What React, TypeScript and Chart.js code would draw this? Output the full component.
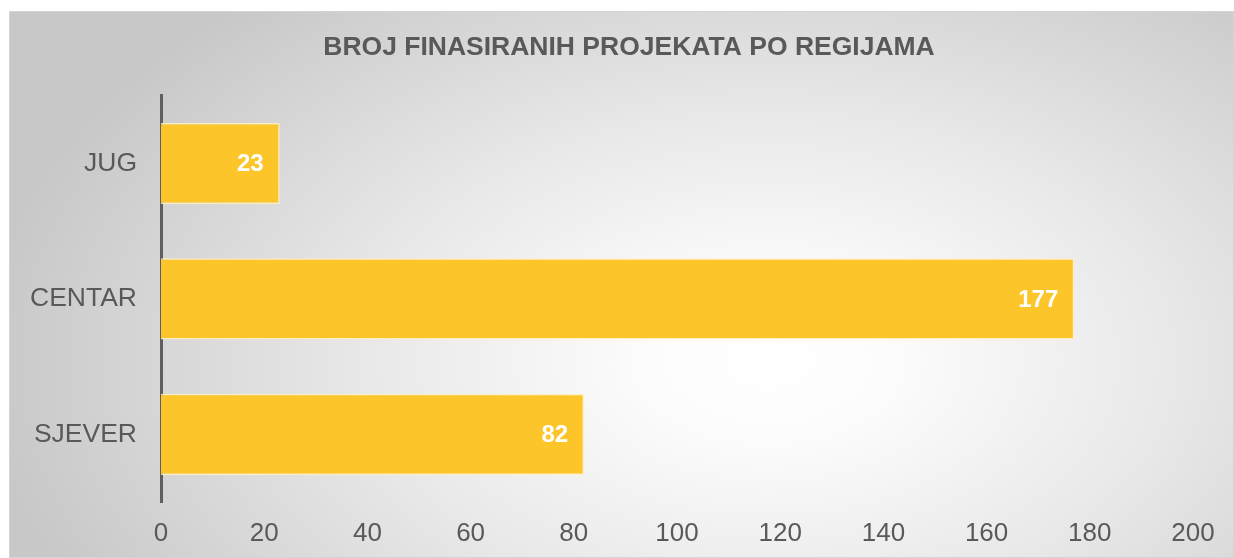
import React, { useEffect, useRef } from "react";
import { Chart, registerables } from "chart.js";

Chart.register(...registerables);

const title = "BROJ FINASIRANIH PROJEKATA PO REGIJAMA";
const regions = ["JUG", "CENTAR", "SJEVER"];
const projects = [23, 177, 82];
const xMin = 0;
const xMax = 200;
const xStep = 20;

const FONT = "'Liberation Sans', Arial, sans-serif";
const GRAY = "#595959";

const valueLabels = {
  id: "valueLabels",
  afterDatasetsDraw(chart: any) {
    const ctx = chart.ctx;
    const meta = chart.getDatasetMeta(0);
    const data = chart.data.datasets[0].data;
    ctx.save();
    ctx.fillStyle = "#ffffff";
    ctx.font = `bold 24px ${FONT}`;
    ctx.textAlign = "right";
    ctx.textBaseline = "middle";
    meta.data.forEach((bar: any, i: number) => {
      ctx.fillText(String(data[i]), bar.x - 16, bar.y + 1);
    });
    ctx.restore();
  },
};

export default function App() {
  const ref = useRef<HTMLCanvasElement>(null);
  useEffect(() => {
    if (!ref.current) return;
    const chart = new Chart(ref.current, {
      type: "bar",
      data: {
        labels: regions,
        datasets: [
          {
            data: projects,
            backgroundColor: "#FCC62B",
            borderColor: "rgba(255,240,190,0.9)",
            borderWidth: 1.5,
            barPercentage: 0.6,
            categoryPercentage: 1,
          },
        ],
      },
      options: {
        indexAxis: "y",
        animation: false,
        responsive: false,
        maintainAspectRatio: false,
        layout: { padding: { left: 15, right: 0, top: 0, bottom: 0 } },
        plugins: {
          legend: { display: false },
          tooltip: { enabled: false },
          title: {
            display: true,
            text: title,
            color: GRAY,
            font: { family: FONT, size: 26.5, weight: "bold", lineHeight: 1.2 },
            padding: { top: 20, bottom: 32 },
          },
        },
        scales: {
          x: {
            min: xMin,
            max: xMax,
            grid: { display: false, drawTicks: false },
            border: { display: false },
            ticks: {
              stepSize: xStep,
              color: GRAY,
              padding: 16,
              font: { family: FONT, size: 26 },
            },
            afterFit: (s: any) => {
              s.height = 55;
            },
          },
          y: {
            z: 1,
            grid: { display: false, drawTicks: false },
            border: { display: true, color: "#5f5f5f", width: 3 },
            ticks: {
              color: GRAY,
              padding: 24,
              font: { family: FONT, size: 26.5 },
            },
            afterFit: (s: any) => {
              s.width = 136;
            },
          },
          ySpace: {
            type: "category",
            position: "right",
            display: true,
            grid: { display: false, drawTicks: false },
            border: { display: false },
            ticks: { display: false },
            afterFit: (s: any) => {
              s.width = 40;
            },
          },
        },
      },
      plugins: [valueLabels],
    });
    return () => chart.destroy();
  }, []);

  return (
    <div
      style={{
        position: "absolute",
        left: 9,
        top: 11,
        width: 1225,
        height: 547,
        boxSizing: "border-box",
        border: "1px solid #d4d4d4",
        background:
          "radial-gradient(ellipse 64% 88% at 62% 64%, #ffffff 0%, #fcfcfc 16%, #e8e8e8 52%, #c8c8c8 100%)",
      }}
    >
      <canvas ref={ref} width={1223} height={545} style={{ display: "block" }} />
    </div>
  );
}
